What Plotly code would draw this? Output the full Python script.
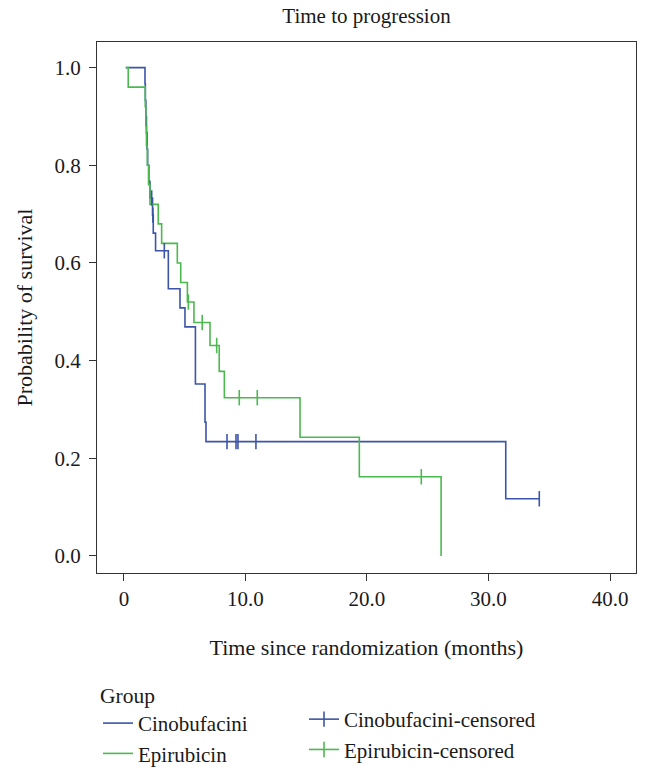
import plotly.graph_objects as go

# Kaplan-Meier step values (time in months, survival probability)
cino_time = [0.15, 1.73, 1.76, 1.80, 1.85, 1.90, 1.95, 2.05, 2.14, 2.35, 2.41, 2.60, 3.65,
             4.61, 5.02, 5.88, 6.67, 6.75, 31.42, 34.18]
cino_surv = [1.0, 0.967, 0.933, 0.900, 0.867, 0.833, 0.800, 0.767, 0.733, 0.698, 0.661, 0.625, 0.547,
             0.508, 0.469, 0.352, 0.274, 0.234, 0.117, 0.117]
cino_cens_time = [2.28, 2.38, 3.32, 8.48, 9.22, 9.38, 10.86, 34.18]
cino_cens_surv = [0.733, 0.698, 0.625, 0.234, 0.234, 0.234, 0.234, 0.117]

epi_time = [0.15, 0.35, 1.75, 1.80, 1.85, 1.92, 2.02, 2.14, 2.82, 3.10, 4.39, 4.67, 5.22,
            5.76, 7.08, 7.84, 8.26, 14.49, 19.37, 26.10]
epi_surv = [1.0, 0.96, 0.92, 0.88, 0.84, 0.80, 0.76, 0.72, 0.68, 0.64, 0.60, 0.56, 0.52,
            0.478, 0.431, 0.378, 0.324, 0.243, 0.162, 0.0]
epi_cens_time = [5.30, 6.44, 7.63, 9.49, 10.97, 24.47]
epi_cens_surv = [0.52, 0.478, 0.431, 0.324, 0.324, 0.162]

x_ticks = [0, 10, 20, 30, 40]
x_tick_text = ["0", "10.0", "20.0", "30.0", "40.0"]
y_ticks = [0.0, 0.2, 0.4, 0.6, 0.8, 1.0]

BLUE = '#3c55a8'
GREEN = '#4cb850'
FONT = "Liberation Serif, Times New Roman, serif"
AXIS = '#333333'


def gapped(xs, ys):
    # single points split by None so a lines+markers trace draws only markers
    gx, gy = [], []
    for a, b in zip(xs, ys):
        gx += [a, None]
        gy += [b, None]
    return gx, gy


fig = go.Figure()
fig.add_trace(go.Scatter(x=cino_time, y=cino_surv, mode='lines', line_shape='hv', name='Cinobufacini',
                         legend='legend', line=dict(color=BLUE, width=1.6)))
fig.add_trace(go.Scatter(x=epi_time, y=epi_surv, mode='lines', line_shape='hv', name='Epirubicin',
                         legend='legend', line=dict(color=GREEN, width=1.6)))

cx, cy = gapped(cino_cens_time, cino_cens_surv)
fig.add_trace(go.Scatter(x=cx, y=cy, mode='lines+markers', name='Cinobufacini-censored', legend='legend2',
                         line=dict(color=BLUE, width=1.6), connectgaps=False,
                         marker=dict(symbol='line-ns-open', size=11, line=dict(color=BLUE, width=1.6))))
ex, ey = gapped(epi_cens_time, epi_cens_surv)
fig.add_trace(go.Scatter(x=ex, y=ey, mode='lines+markers', name='Epirubicin-censored', legend='legend2',
                         line=dict(color=GREEN, width=1.6), connectgaps=False,
                         marker=dict(symbol='line-ns-open', size=11, line=dict(color=GREEN, width=1.6))))

fig.update_layout(
    width=653, height=779,
    margin=dict(l=97, r=17, t=42, b=206, autoexpand=False),
    paper_bgcolor='white', plot_bgcolor='white',
    font=dict(family=FONT, size=22, color='#1a1a1a'),
    title=dict(text='Time to progression', x=0.5, xref='paper', xanchor='center',
               y=1 - 16 / 779, yref='container', yanchor='middle', font=dict(size=21)),
    showlegend=True,
    legend=dict(orientation='v', xref='container', x=98 / 653, xanchor='left',
                yref='container', y=1 - 675 / 779, yanchor='top',
                title=dict(text='Group', font=dict(size=21.5)), font=dict(size=21),
                bgcolor='rgba(0,0,0,0)'),
    legend2=dict(orientation='v', xref='container', x=304 / 653, xanchor='left',
                 yref='container', y=1 - 699 / 779, yanchor='top', font=dict(size=21),
                 bgcolor='rgba(0,0,0,0)'),
    annotations=[dict(text='Probability of survival', xref='paper', yref='paper',
                      x=(24 - 97) / 539, y=0.5, xanchor='center', yanchor='middle',
                      textangle=-90, showarrow=False, font=dict(size=22))],
)
fig.update_xaxes(range=[-2.22, 42.14], tickvals=x_ticks, ticktext=x_tick_text, showgrid=False, zeroline=False,
                 showline=True, linecolor=AXIS, linewidth=1.3, mirror=True, automargin=False,
                 ticks='outside', ticklen=7, tickwidth=1.3, tickcolor=AXIS, tickfont=dict(size=21),
                 title=dict(text='Time since randomization (months)', standoff=29, font=dict(size=22)))
fig.update_yaxes(range=[-0.035, 1.0525], tickvals=y_ticks, tickformat='.1f', showgrid=False, zeroline=False,
                 showline=True, linecolor=AXIS, linewidth=1.3, mirror=True, automargin=False,
                 ticks='outside', ticklen=7, tickwidth=1.3, tickcolor=AXIS, tickfont=dict(size=21),
                 ticklabelstandoff=4)

# drop the browser's default 8px body margin so the figure sits at the page origin
fig.write_html("out.html", config={'displayModeBar': False},
               post_script="document.body.style.margin = '0';")
